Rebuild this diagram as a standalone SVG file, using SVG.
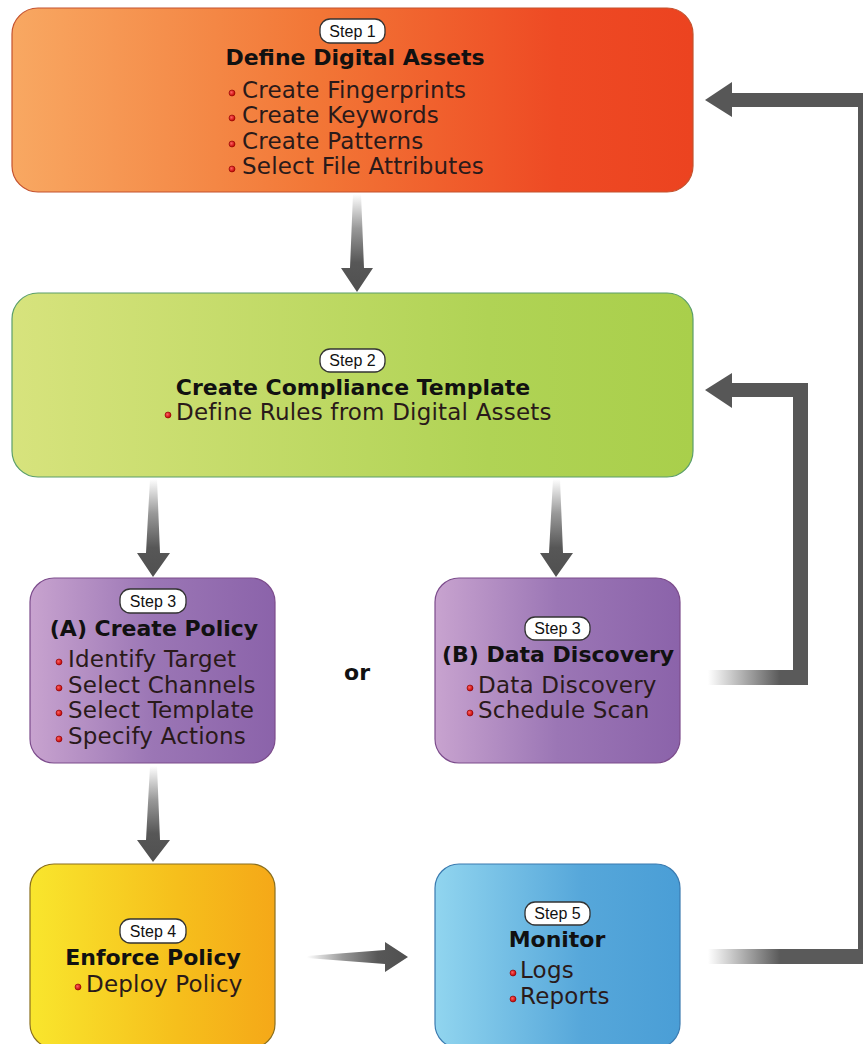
<svg xmlns="http://www.w3.org/2000/svg" width="863" height="1044" viewBox="0 0 863 1044">
<defs>
<linearGradient id="gOrange" x1="0" y1="0" x2="1" y2="0"><stop offset="0" stop-color="#f8a862"/><stop offset="0.45" stop-color="#f27636"/><stop offset="0.8" stop-color="#ee4a24"/><stop offset="1" stop-color="#ec4320"/></linearGradient>
<linearGradient id="gGreen" x1="0" y1="0" x2="1" y2="0"><stop offset="0" stop-color="#d7e37d"/><stop offset="0.7" stop-color="#b0d355"/><stop offset="1" stop-color="#a9cf4b"/></linearGradient>
<linearGradient id="gPurple" x1="0" y1="0" x2="1" y2="0"><stop offset="0" stop-color="#c8a3cf"/><stop offset="0.5" stop-color="#9b76b5"/><stop offset="1" stop-color="#8b63aa"/></linearGradient>
<linearGradient id="gYellow" x1="0" y1="0" x2="1" y2="0"><stop offset="0" stop-color="#f9e62d"/><stop offset="0.6" stop-color="#f6bf1c"/><stop offset="1" stop-color="#f5a818"/></linearGradient>
<linearGradient id="gBlue" x1="0" y1="0" x2="1" y2="0"><stop offset="0" stop-color="#91d5ef"/><stop offset="0.6" stop-color="#56a7da"/><stop offset="1" stop-color="#4a9ed6"/></linearGradient>
<linearGradient id="gDown" x1="0" y1="0" x2="0" y2="1"><stop offset="0" stop-color="#ffffff"/><stop offset="0.35" stop-color="#999999"/><stop offset="0.7" stop-color="#575757"/><stop offset="1" stop-color="#505050"/></linearGradient>
<linearGradient id="gRight" x1="0" y1="0" x2="1" y2="0"><stop offset="0" stop-color="#ffffff"/><stop offset="0.35" stop-color="#999999"/><stop offset="0.7" stop-color="#575757"/><stop offset="1" stop-color="#505050"/></linearGradient>
<linearGradient id="gFade" gradientUnits="userSpaceOnUse" x1="708" y1="0" x2="780" y2="0"><stop offset="0" stop-color="#ffffff"/><stop offset="1" stop-color="#5a5a5a"/></linearGradient>
<radialGradient id="gDot" cx="0.4" cy="0.4" r="0.6"><stop offset="0" stop-color="#ff6060"/><stop offset="1" stop-color="#c00000"/></radialGradient>
</defs>
<style>
.box{stroke-width:1.2}
.badge{fill:#ffffff;stroke:#333333;stroke-width:1.3}
.bt{font-family:"Liberation Sans",Arial,sans-serif;font-size:16px;fill:#111111;text-anchor:middle}
.title{font-family:"DejaVu Sans",Verdana,sans-serif;font-size:22px;font-weight:bold;fill:#111111;text-anchor:middle}
.item{font-family:"DejaVu Sans",Verdana,sans-serif;font-size:23px;letter-spacing:0.2px;fill:#2a1a1a}
.dot{fill:url(#gDot);stroke:#8a0000;stroke-width:0.6}
.arr{fill:#575757}
</style>

<g id="connectors">
<polygon fill="url(#gDown)" points="353,194 361,194 364,268 373,268 357,292 341,268 350,268"/>
<polygon fill="url(#gDown)" points="150,479 157,479 160,553 170,553 153,577 137,553 146,553"/>
<polygon fill="url(#gDown)" points="553,479 560,479 563,553 573,553 556,577 540,553 549,553"/>
<polygon fill="url(#gDown)" points="150,766 157,766 160,840 170,840 153,862 137,840 146,840"/>
<polygon fill="url(#gRight)" points="307,956 385,950 385,942 408,957 385,972 385,964 307,958"/>
<rect x="708" y="670" width="100" height="15" fill="url(#gFade)"/>
<path class="arr" d="M793,397 H732 V408 L705,390 L732,373 V383 H808 V670 H793 Z"/>
<rect x="708" y="949" width="155" height="15" fill="url(#gFade)"/>
<path class="arr" d="M858,107 H732 V117 L705,100 L732,82 V93 H863 V949 H858 Z"/>
</g>

<g id="step1">
<rect class="box" x="12" y="8" width="681" height="184" rx="26" fill="url(#gOrange)" stroke="#c4522e"/>
<rect class="badge" x="320" y="19" width="65" height="24" rx="10"/>
<text class="bt" x="352.5" y="37">Step 1</text>
<text class="title" x="355" y="65">Define Digital Assets</text>
<circle class="dot" cx="232" cy="93" r="3"/>
<text class="item" x="242" y="98">Create Fingerprints</text>
<circle class="dot" cx="232" cy="118" r="3"/>
<text class="item" x="242" y="123">Create Keywords</text>
<circle class="dot" cx="232" cy="144" r="3"/>
<text class="item" x="242" y="149">Create Patterns</text>
<circle class="dot" cx="232" cy="169" r="3"/>
<text class="item" x="242" y="174">Select File Attributes</text>
</g>

<g id="step2">
<rect class="box" x="12" y="293" width="681" height="184" rx="26" fill="url(#gGreen)" stroke="#5a9e6a"/>
<rect class="badge" x="320" y="349" width="65" height="23" rx="10"/>
<text class="bt" x="352.5" y="366">Step 2</text>
<text class="title" x="353" y="395">Create Compliance Template</text>
<circle class="dot" cx="168" cy="415" r="3"/>
<text class="item" x="176" y="420">Define Rules from Digital Assets</text>
</g>

<g id="step3a">
<rect class="box" x="30" y="578" width="245" height="185" rx="24" fill="url(#gPurple)" stroke="#7c4c8c"/>
<rect class="badge" x="120" y="589" width="66" height="24" rx="10"/>
<text class="bt" x="153" y="607">Step 3</text>
<text class="title" x="154" y="636">(A) Create Policy</text>
<circle class="dot" cx="59" cy="662" r="3"/>
<text class="item" x="68" y="667">Identify Target</text>
<circle class="dot" cx="59" cy="688" r="3"/>
<text class="item" x="68" y="693">Select Channels</text>
<circle class="dot" cx="59" cy="713" r="3"/>
<text class="item" x="68" y="718">Select Template</text>
<circle class="dot" cx="59" cy="739" r="3"/>
<text class="item" x="68" y="744">Specify Actions</text>
</g>

<g id="or">
<text class="title" x="357" y="680">or</text>
</g>

<g id="step3b">
<rect class="box" x="435" y="578" width="245" height="185" rx="24" fill="url(#gPurple)" stroke="#7c4c8c"/>
<rect class="badge" x="525" y="617" width="65" height="23" rx="10"/>
<text class="bt" x="557.5" y="634">Step 3</text>
<text class="title" x="558" y="662">(B) Data Discovery</text>
<circle class="dot" cx="470" cy="688" r="3"/>
<text class="item" x="478" y="693">Data Discovery</text>
<circle class="dot" cx="470" cy="713" r="3"/>
<text class="item" x="478" y="718">Schedule Scan</text>
</g>

<g id="step4">
<rect class="box" x="30" y="864" width="245" height="184" rx="24" fill="url(#gYellow)" stroke="#8a6f1e"/>
<rect class="badge" x="120" y="919" width="66" height="24" rx="10"/>
<text class="bt" x="153" y="937">Step 4</text>
<text class="title" x="153" y="965">Enforce Policy</text>
<circle class="dot" cx="78" cy="987" r="3"/>
<text class="item" x="86" y="992">Deploy Policy</text>
</g>

<g id="step5">
<rect class="box" x="435" y="864" width="245" height="184" rx="24" fill="url(#gBlue)" stroke="#3b7bb0"/>
<rect class="badge" x="525" y="902" width="65" height="23" rx="10"/>
<text class="bt" x="557.5" y="919">Step 5</text>
<text class="title" x="557" y="947">Monitor</text>
<circle class="dot" cx="513" cy="973" r="3"/>
<text class="item" x="520" y="978">Logs</text>
<circle class="dot" cx="513" cy="999" r="3"/>
<text class="item" x="520" y="1004">Reports</text>
</g>
</svg>
